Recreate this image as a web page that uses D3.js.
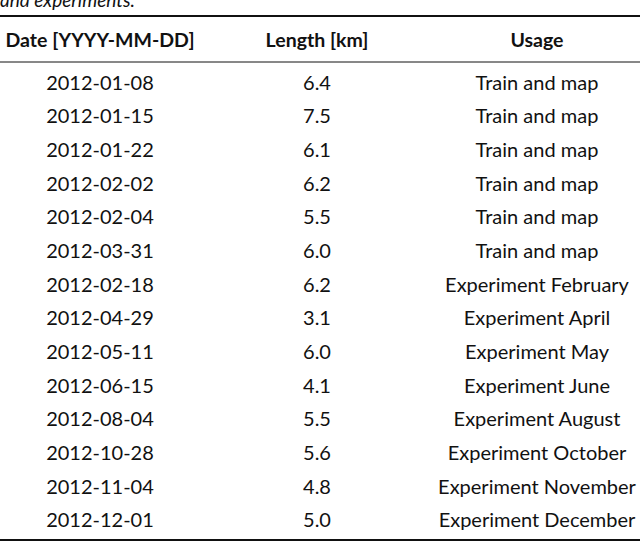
<!DOCTYPE html>
<html>
<head>
<meta charset="utf-8">
<script src="https://cdn.jsdelivr.net/npm/d3@7"></script>
<style>
  body { margin: 0; background: #fff; }
  text { font-family: Lato, "Open Sans", sans-serif; fill: #111; }
</style>
</head>
<body>
<div id="chart"></div>
<script>
const headers = ['Date [YYYY-MM-DD]', 'Length [km]', 'Usage'];
const dates = ['2012-01-08', '2012-01-15', '2012-01-22', '2012-02-02', '2012-02-04', '2012-03-31',
  '2012-02-18', '2012-04-29', '2012-05-11', '2012-06-15', '2012-08-04', '2012-10-28', '2012-11-04', '2012-12-01'];
const lengths = [6.4, 7.5, 6.1, 6.2, 5.5, 6.0, 6.2, 3.1, 6.0, 4.1, 5.5, 5.6, 4.8, 5.0];
const usages = ['Train and map', 'Train and map', 'Train and map', 'Train and map', 'Train and map', 'Train and map',
  'Experiment February', 'Experiment April', 'Experiment May', 'Experiment June', 'Experiment August',
  'Experiment October', 'Experiment November', 'Experiment December'];

const width = 640, height = 545;
const svg = d3.select('#chart').append('svg').attr('width', width).attr('height', height);

// caption, cut off at the top like the source
svg.append('text').attr('x', 0).attr('y', 7).style('font-size', '19px').style('font-style', 'italic')
  .text('and experiments.');

const colPos = { [headers[0]]: 100, [headers[1]]: 317, [headers[2]]: 537 };

const y = d3.scaleBand().domain(d3.range(dates.length)).range([66, 537]);

const rule = (yy, w) => svg.append('line').attr('x1', 0).attr('x2', width)
  .attr('y1', yy).attr('y2', yy).attr('stroke', '#111').attr('stroke-width', w);
rule(16, 2); rule(62, 1); rule(540, 2);

svg.selectAll('.hdr').data(headers).enter().append('text')
  .attr('x', d => colPos[d]).attr('y', 47).attr('text-anchor', 'middle')
  .style('font-size', '19.5px').style('font-weight', 'bold').text(d => d);

const rows = dates.map((d, i) => [d, lengths[i].toFixed(1), usages[i]]);
const g = svg.selectAll('.row').data(rows).enter().append('g')
  .attr('transform', (d, i) => `translate(0,${y(i) + y.bandwidth() / 2 + 7})`);
g.selectAll('text').data(d => d).enter().append('text')
  .attr('x', (d, j) => colPos[headers[j]]).attr('text-anchor', 'middle')
  .style('font-size', '20px').text(d => d);
</script>
</body>
</html>
